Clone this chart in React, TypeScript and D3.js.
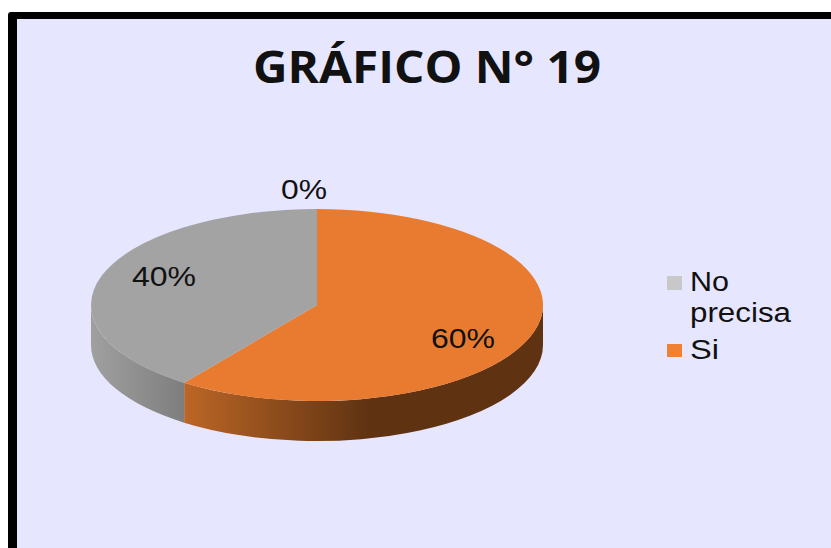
import React from "react";
import * as d3 from "d3";

const categories = ["Si", "No precisa"];
const values = [60, 40];
const colors = ["#E97B30", "#A3A3A3"];
const legendItems = [
  { lines: ["No", "precisa"], color: "#C8C8C8" },
  { lines: ["Si"], color: "#F08033" },
];

const cx = 317, cy = 305, rx = 226, ry = 96, depth = 40;

export default function App() {
  const pie = d3.pie<number>().sort(null).value((d) => d);
  const arcs = pie(values);
  const arc = d3.arc<d3.PieArcDatum<number>>().innerRadius(0).outerRadius(rx);
  const px = (a: number) => cx + rx * Math.sin(a);
  const py = (a: number) => cy - ry * Math.cos(a);
  const wall = (a0: number, a1: number) => {
    const s = Math.max(a0, Math.PI / 2);
    const e = Math.min(a1, (3 * Math.PI) / 2);
    if (e <= s) return "";
    return `M${px(s)},${py(s)}A${rx},${ry} 0 0 1 ${px(e)},${py(e)}L${px(e)},${py(e) + depth}A${rx},${ry} 0 0 0 ${px(s)},${py(s) + depth}Z`;
  };
  const sans = "'Liberation Sans', Arial, sans-serif";
  const stretch = { lengthAdjust: "spacingAndGlyphs" } as const;
  return (
    <svg width={831} height={548} style={{ position: "absolute", left: 0, top: 0 }}>
      <defs>
        <linearGradient id="wall0" gradientUnits="userSpaceOnUse" x1={184} x2={543} y1={0} y2={0}>
          <stop offset="0" stopColor="#BC6626" />
          <stop offset="0.52" stopColor="#5F3212" />
          <stop offset="1" stopColor="#5F3212" />
        </linearGradient>
        <linearGradient id="wall1" gradientUnits="userSpaceOnUse" x1={91} x2={184} y1={0} y2={0}>
          <stop offset="0" stopColor="#A0A0A0" />
          <stop offset="1" stopColor="#7E7E7E" />
        </linearGradient>
      </defs>
      <rect x={8} y={12} width={840} height={560} rx={3} fill="#000" />
      <rect x={17} y={19} width={830} height={540} fill="#E6E6FF" />
      <text x={253} y={83} textLength={348} {...stretch} fontFamily="'Open Sans', sans-serif" fontWeight={700} fontSize={44} fill="#111">
        GRÁFICO N° 19
      </text>
      {arcs.map((a, i) => (
        <path key={"w" + categories[i]} d={wall(a.startAngle, a.endAngle)} fill={`url(#wall${i})`} />
      ))}
      {arcs.map((a, i) => (
        <path
          key={categories[i]}
          d={arc(a) ?? ""}
          fill={colors[i]}
          transform={`translate(${cx},${cy}) scale(1,${ry / rx})`}
        />
      ))}
      <g fontFamily={sans} fontSize={27} fill="#111">
        <text x={281} y={199} textLength={46} {...stretch}>0%</text>
        <text x={132} y={286} textLength={64} {...stretch}>40%</text>
        <text x={431} y={348} textLength={64} {...stretch}>60%</text>
      </g>
      <g fontFamily={sans} fontSize={27} fill="#111">
        <rect x={667} y={276} width={15} height={14} fill={legendItems[0].color} />
        <text x={690} y={291} textLength={39} {...stretch}>{legendItems[0].lines[0]}</text>
        <text x={690} y={322} textLength={101} {...stretch}>{legendItems[0].lines[1]}</text>
        <rect x={667} y={344} width={15} height={13} fill={legendItems[1].color} />
        <text x={690} y={359} textLength={29} {...stretch}>{legendItems[1].lines[0]}</text>
      </g>
    </svg>
  );
}
